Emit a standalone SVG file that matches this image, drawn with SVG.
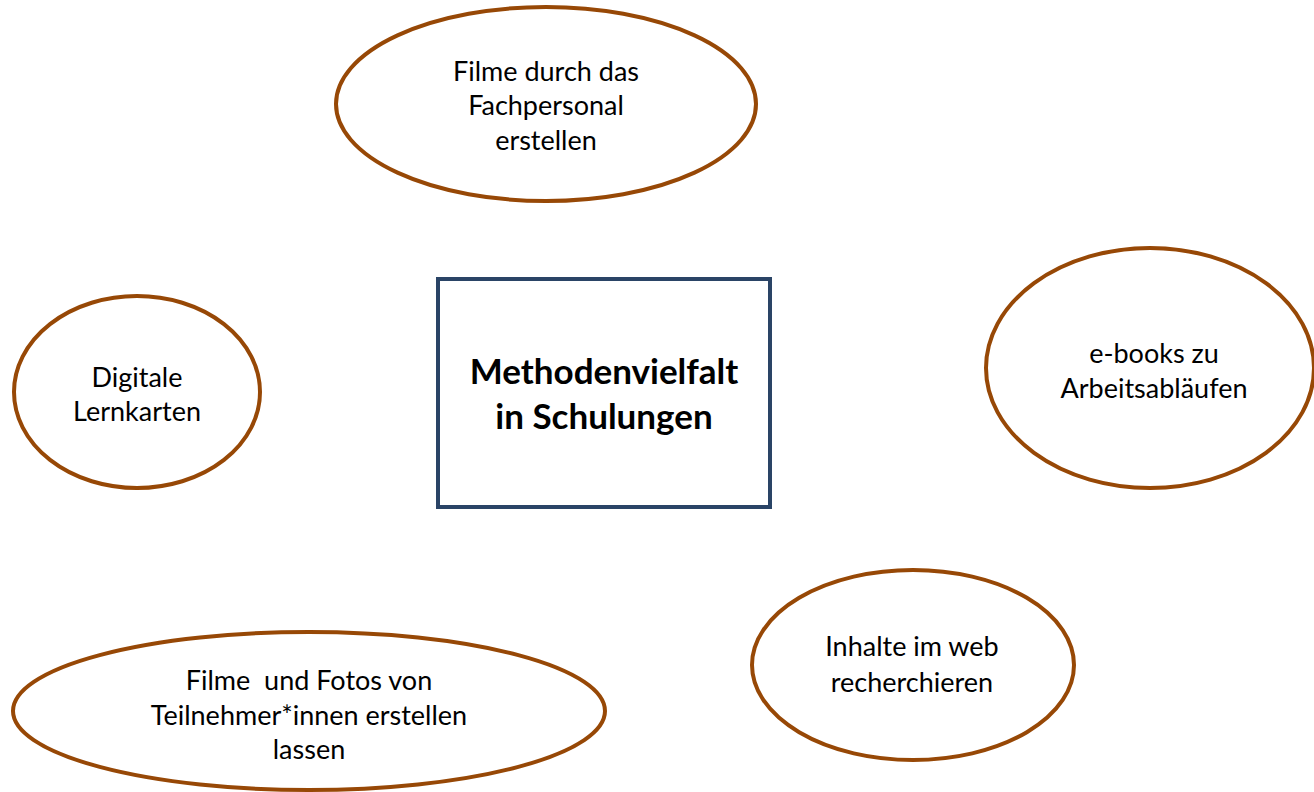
<svg xmlns="http://www.w3.org/2000/svg" width="1314" height="792" viewBox="0 0 1314 792">
<style>
.oval{fill:#fff;stroke:#974806;stroke-width:4}
.box{fill:#fff;stroke:#2a4466;stroke-width:4}
text{font-family:Lato,"Liberation Sans",sans-serif;font-size:27px;fill:#000;text-anchor:middle}
.b{font-weight:bold;font-size:35px}
</style>
<rect width="1314" height="792" fill="#fff"/>
<g id="connectors"></g>
<g id="n-top">
<ellipse class="oval" cx="546" cy="104" rx="210" ry="97"/>
<text x="546" y="81">Filme durch das</text>
<text x="546" y="115">Fachpersonal</text>
<text x="546" y="150">erstellen</text>
</g>
<g id="n-center">
<rect class="box" x="438" y="279" width="332" height="228"/>
<text class="b" x="604" y="384">Methodenvielfalt</text>
<text class="b" x="604" y="429">in Schulungen</text>
</g>
<g id="n-left">
<ellipse class="oval" cx="137" cy="392" rx="123" ry="96"/>
<text x="137" y="387">Digitale</text>
<text x="137" y="421">Lernkarten</text>
</g>
<g id="n-right">
<ellipse class="oval" cx="1150" cy="368" rx="164" ry="120"/>
<text x="1154" y="363">e-books zu</text>
<text x="1154" y="398">Arbeitsabläufen</text>
</g>
<g id="n-web">
<ellipse class="oval" cx="913" cy="665" rx="161" ry="95"/>
<text x="912" y="656">Inhalte im web</text>
<text x="912" y="692">recherchieren</text>
</g>
<g id="n-bottom">
<ellipse class="oval" cx="309" cy="711" rx="296" ry="79"/>
<text x="309" y="690" xml:space="preserve">Filme  und Fotos von</text>
<text x="309" y="725">Teilnehmer*innen erstellen</text>
<text x="309" y="759">lassen</text>
</g>
</svg>
